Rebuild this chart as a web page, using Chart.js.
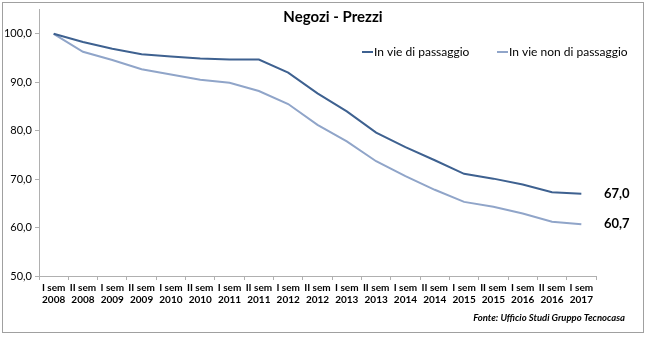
<!DOCTYPE html>
<html>
<head>
<meta charset="utf-8">
<script src="https://cdn.jsdelivr.net/npm/chart.js@4"></script>
<style>
  html, body { margin: 0; padding: 0; background: #fff; }
  #wrap { position: relative; width: 646px; height: 337px; }
</style>
</head>
<body>
<div id="wrap"><canvas id="chart" width="646" height="337"></canvas></div>
<script>
// semesters shown on the x axis
const semesters = ['I sem', 'II sem', 'I sem', 'II sem', 'I sem', 'II sem', 'I sem', 'II sem', 'I sem', 'II sem',
  'I sem', 'II sem', 'I sem', 'II sem', 'I sem', 'II sem', 'I sem', 'II sem', 'I sem'];
const years = ['2008', '2008', '2009', '2009', '2010', '2010', '2011', '2011', '2012', '2012',
  '2013', '2013', '2014', '2014', '2015', '2015', '2016', '2016', '2017'];

// index values (first semester 2008 = 100)
const inViePassaggio = [100, 98.3, 96.9, 95.8, 95.3, 94.9, 94.7, 94.7, 92.0, 87.7,
  84.0, 79.6, 76.6, 73.9, 71.1, 70.1, 68.9, 67.3, 67.0];
const inVieNonPassaggio = [100, 96.3, 94.6, 92.7, 91.6, 90.5, 89.9, 88.2, 85.5, 81.2,
  77.8, 73.7, 70.6, 67.8, 65.3, 64.3, 62.9, 61.2, 60.7];

const yTicks = [50, 60, 70, 80, 90, 100];

const darkBlue = '#3e6190';
const lightBlue = '#90a5c9';
const font = 'Lato, "Open Sans", sans-serif';
const fmt = v => v.toFixed(1).replace('.', ',');

const labels = semesters.map((s, i) => [s, years[i]]);

// title, legend, end labels, source note and outer border
const decorations = {
  id: 'decorations',
  afterDraw(chart) {
    const ctx = chart.ctx;
    const area = chart.chartArea;
    ctx.save();

    ctx.strokeStyle = '#a0a0a0';
    ctx.lineWidth = 1;
    ctx.strokeRect(2.5, 2.5, 641, 330);

    ctx.fillStyle = '#000';
    ctx.font = 'bold 15px ' + font;
    ctx.textAlign = 'center';
    ctx.textBaseline = 'middle';
    ctx.fillText('Negozi - Prezzi', 333, 17);

    // legend
    ctx.font = '12px ' + font;
    ctx.textAlign = 'left';
    const items = [['In vie di passaggio', darkBlue, 362], ['In vie non di passaggio', lightBlue, 497]];
    items.forEach(([txt, col, x]) => {
      ctx.strokeStyle = col;
      ctx.lineWidth = 2;
      ctx.beginPath();
      ctx.moveTo(x, 52);
      ctx.lineTo(x + 11, 52);
      ctx.stroke();
      ctx.fillStyle = '#000';
      ctx.fillText(txt, x + 12, 52);
    });

    // value labels at the end of each line
    ctx.font = 'bold 13px ' + font;
    chart.data.datasets.forEach((ds, i) => {
      const meta = chart.getDatasetMeta(i);
      const last = meta.data[meta.data.length - 1];
      ctx.fillText(fmt(ds.data[ds.data.length - 1]), area.right + 8, last.y);
    });

    // source
    ctx.font = 'italic bold 9.5px ' + font;
    ctx.textAlign = 'right';
    ctx.fillText('Fonte: Ufficio Studi Gruppo Tecnocasa', 625, 318);

    ctx.restore();
  }
};

new Chart(document.getElementById('chart'), {
  type: 'line',
  data: {
    labels: labels,
    datasets: [
      {
        label: 'In vie di passaggio',
        data: inViePassaggio,
        borderColor: darkBlue,
        borderWidth: 2,
        pointRadius: 0,
        tension: 0
      },
      {
        label: 'In vie non di passaggio',
        data: inVieNonPassaggio,
        borderColor: lightBlue,
        borderWidth: 2,
        pointRadius: 0,
        tension: 0
      }
    ]
  },
  options: {
    responsive: false,
    animation: false,
    layout: { padding: { left: 0, right: 50, top: 8, bottom: 0 } },
    plugins: {
      legend: { display: false },
      title: { display: false },
      tooltip: { enabled: false }
    },
    scales: {
      x: {
        offset: true,
        grid: { offset: true, drawOnChartArea: false, drawTicks: true, tickLength: 4, color: '#b0b0b0' },
        border: { color: '#b0b0b0' },
        ticks: {
          autoSkip: false,
          maxRotation: 0,
          color: '#000',
          padding: 2,
          font: { family: font, size: 10, weight: 'bold', lineHeight: 1.2 }
        },
        afterFit(scale) { scale.height = 61; }
      },
      y: {
        min: 50,
        max: 105,
        afterBuildTicks(scale) { scale.ticks = yTicks.map(v => ({ value: v })); },
        grid: { drawOnChartArea: false, drawTicks: true, tickLength: 4, color: '#b0b0b0' },
        border: { color: '#b0b0b0' },
        ticks: {
          color: '#000',
          padding: 3,
          font: { family: font, size: 11 },
          callback: v => fmt(v)
        },
        afterFit(scale) { scale.width = 39; }
      }
    }
  },
  plugins: [decorations]
});
</script>
</body>
</html>
